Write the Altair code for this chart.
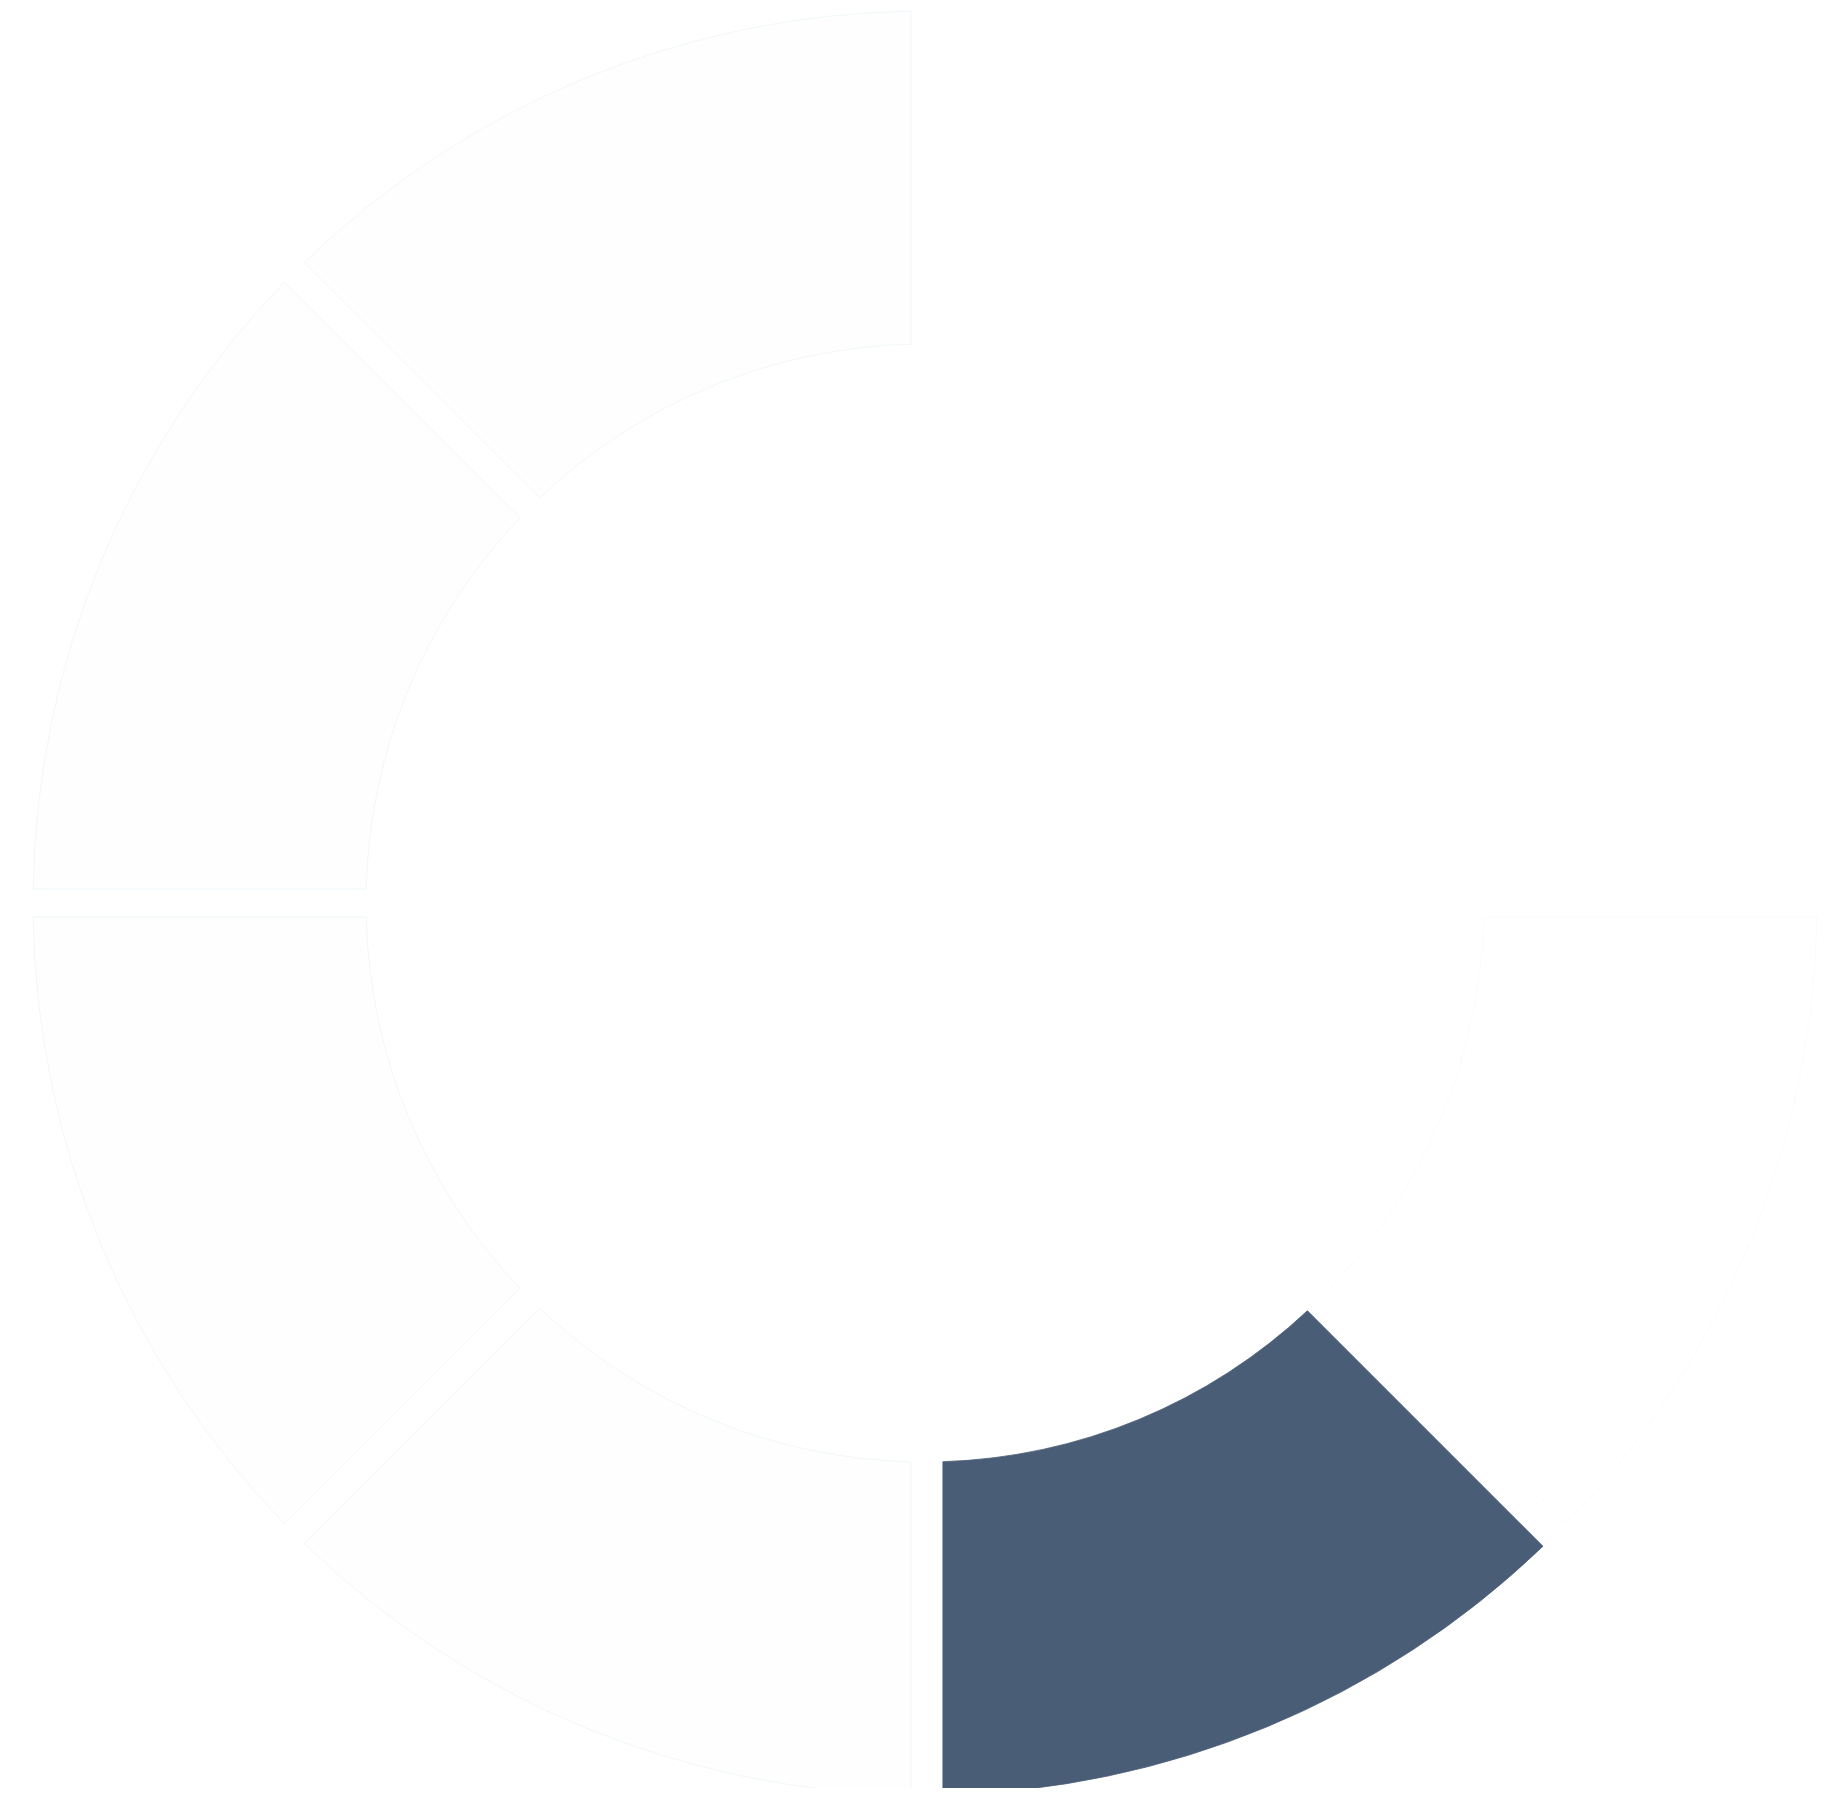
import altair as alt
import pandas as pd

segments = ["S1", "S2", "S3", "S4", "S5", "S6", "S7", "S8"]
values = [1, 1, 1, 1, 1, 1, 1, 1]
order = [0, 1, 2, 3, 4, 5, 6, 7]

fill_colors = ["#ffffff", "#ffffff", "#ffffff", "#4a5d77", "#fefefe", "#fefefe", "#fefefe", "#fefefe"]
stroke_colors = ["#ffffff", "#ffffff", "#f7fafc", "#4a5d77", "#eef5f9", "#eef5f9", "#eef5f9", "#eef5f9"]

df = pd.DataFrame({"segment": segments, "value": values, "order": order})

chart = (
    alt.Chart(df)
    .mark_arc(
        outerRadius=892,
        innerRadius=559,
        padAngle=alt.expr("datum.segment == 'S4' ? 0.034 : 0.0266"),
        strokeWidth=0.8,
    )
    .encode(
        theta=alt.Theta("value:Q", stack=True),
        order=alt.Order("order:Q"),
        x=alt.value(917),
        y=alt.value(895),
        color=alt.Color("segment:N", scale=alt.Scale(domain=segments, range=fill_colors), legend=None),
        stroke=alt.Stroke("segment:N", scale=alt.Scale(domain=segments, range=stroke_colors), legend=None),
    )
    .properties(width=1822, height=1780, autosize=alt.AutoSizeParams(type="none"), padding=0)
    .configure_view(stroke=None)
)

chart.save("out.html", embed_options={"renderer": "svg", "actions": False})
